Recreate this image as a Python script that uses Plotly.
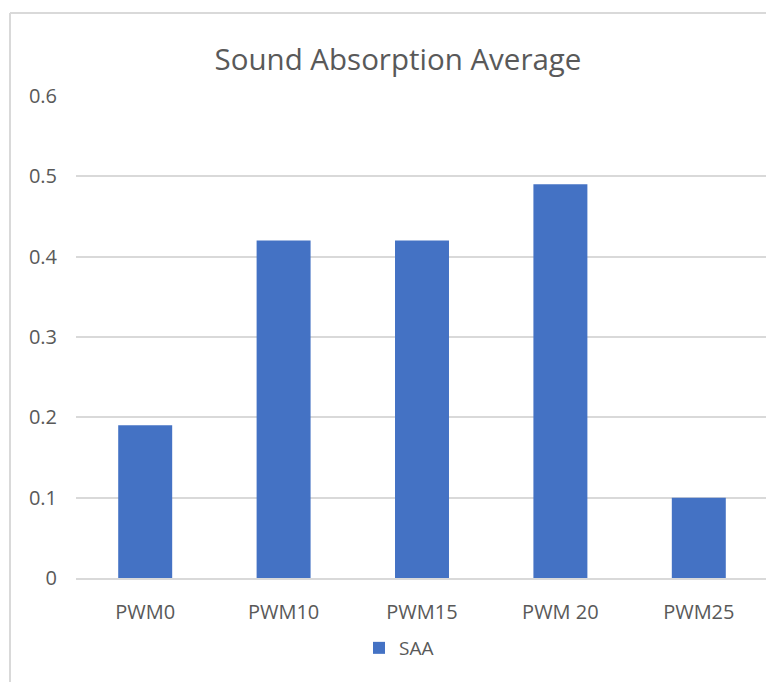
import plotly.graph_objects as go

categories = ["PWM0", "PWM10", "PWM15", "PWM 20", "PWM25"]
saa_values = [0.19, 0.42, 0.42, 0.49, 0.10]
y_ticks = [0, 0.1, 0.2, 0.3, 0.4, 0.5, 0.6]
y_tick_labels = ["0", "0.1", "0.2", "0.3", "0.4", "0.5", "0.6"]

# page has an 8px body margin: figure origin sits at page (8, 8)
OFF = 8
W, H = 774 - OFF, 682 - OFF
# plot area in page coords: x 76..768, y 96..578
L, R, T, B = 76 - OFF, W - (768 - OFF), 96 - OFF, H - (578 - OFF)
pw, ph = W - L - R, H - T - B

def px(x):
    return (x - OFF - L) / pw

def py(y):
    return (H - B - (y - OFF)) / ph

fig = go.Figure()
fig.add_trace(go.Bar(
    x=categories, y=saa_values, name="SAA",
    marker=dict(color="#4472C4", line=dict(width=0)),
    width=0.39,
))

font_family = "Open Sans, Noto Sans, sans-serif"
fig.update_layout(
    width=W, height=H,
    margin=dict(l=L, r=R, t=T, b=B),
    paper_bgcolor="white", plot_bgcolor="white",
    font=dict(family=font_family, color="#595959", size=20),
    title=dict(text="Sound Absorption Average", x=(398 - OFF) / W, xanchor="center",
               y=1 - (60 - OFF) / H, yanchor="middle",
               font=dict(size=29.5, color="#595959", family=font_family)),
    showlegend=True,
    legend=dict(orientation="h", x=px(399), xanchor="center", y=py(648), yanchor="middle",
                font=dict(size=19, color="#595959"), itemwidth=30),
    xaxis=dict(showgrid=False, showline=True, linecolor="#d9d9d9", linewidth=1.5,
               ticks="", ticklabelstandoff=15, tickfont=dict(size=20, color="#595959")),
    yaxis=dict(range=[0, 0.6], tickvals=y_ticks, ticktext=y_tick_labels,
               showgrid=True, gridcolor="#d9d9d9", gridwidth=1.5, zeroline=False,
               showline=False, ticks="", ticklabelstandoff=18,
               tickfont=dict(size=20, color="#595959")),
    shapes=[
        dict(type="line", xref="paper", yref="paper", x0=px(10), x1=px(790), y0=py(13), y1=py(13),
             line=dict(color="#d9d9d9", width=2)),
        dict(type="line", xref="paper", yref="paper", x0=px(10), x1=px(10), y0=py(13), y1=py(700),
             line=dict(color="#d9d9d9", width=2)),
    ],
)

fig.write_html("out.html")
